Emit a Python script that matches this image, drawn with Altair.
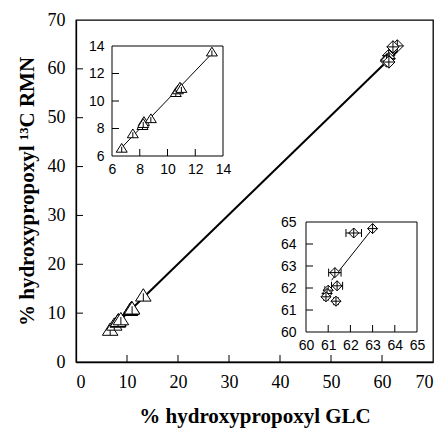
import altair as alt
import pandas as pd

# --- data -------------------------------------------------------------
# low-substitution samples (triangles)
tri_glc = [6.7, 7.5, 8.2, 8.3, 8.25, 8.8, 10.6, 10.75, 10.9, 11.0, 13.2]
tri_rmn = [6.55, 7.6, 8.2, 8.5, 8.35, 8.7, 10.6, 10.8, 11.0, 10.9, 13.55]

# high-substitution samples (diamonds, with GLC error bars)
dia_glc = [63.0, 62.15, 61.3, 61.4, 61.0, 60.95, 60.9, 61.35]
dia_rmn = [64.7, 64.5, 62.7, 62.1, 61.9, 61.75, 61.6, 61.4]
dia_err = [0.05, 0.35, 0.28, 0.25, 0.15, 0.12, 0.1, 0.1]

# fitted lines (end points)
main_fit_x = [6.4, 63.0]
main_fit_y = [6.3, 63.6]
low_fit_x = [6.4, 13.2]
low_fit_y = [6.3, 13.45]
high_fit_x = [61.15, 63.0]
high_fit_y = [62.35, 64.7]

main_ticks = [0, 10, 20, 30, 40, 50, 60, 70]
low_ticks = [6, 8, 10, 12, 14]
high_ticks = [60, 61, 62, 63, 64, 65]

# --- geometry ---------------------------------------------------------
W, H = 357, 342
SERIF = "Liberation Serif"
SANS = "Liberation Sans"

TRI = "M0,-1L1.1,0.75L-1.1,0.75Z M0,-0.35L0,0.75"
DIA = "M0,-1L1,0L0,1L-1,0Z M-1,0L1,0 M0,-1L0,1"

main_x = alt.Scale(domain=[0, 70], range=[0, W], nice=False, zero=False)
main_y = alt.Scale(domain=[0, 70], range=[H, 0], nice=False, zero=False)
low_x = alt.Scale(domain=[6, 14], range=[36, 147], nice=False, zero=False)
low_y = alt.Scale(domain=[6, 14], range=[136, 26], nice=False, zero=False)
high_x = alt.Scale(domain=[60, 65], range=[230, 341], nice=False, zero=False)
high_y = alt.Scale(domain=[60, 65], range=[312, 202], nice=False, zero=False)

tri_df = pd.DataFrame({"glc": tri_glc, "rmn": tri_rmn})
dia_df = pd.DataFrame({"glc": dia_glc, "rmn": dia_rmn, "err": dia_err})
dia_df["lo"] = dia_df["glc"] - dia_df["err"]
dia_df["hi"] = dia_df["glc"] + dia_df["err"]


def xq(scale, axis=None, field="glc"):
    return alt.X(f"{field}:Q", scale=scale, axis=axis)


def yq(scale, axis=None, field="rmn"):
    return alt.Y(f"{field}:Q", scale=scale, axis=axis)


def line_layer(xs, ys, sx, sy, width, xaxis=None, yaxis=None):
    df = pd.DataFrame({"glc": xs, "rmn": ys})
    return alt.Chart(df).mark_line(color="black", strokeWidth=width).encode(
        x=xq(sx, xaxis), y=yq(sy, yaxis)
    )


def points(df, shape, sx, sy, size):
    return alt.Chart(df).mark_point(
        shape=shape, filled=True, fill="white", stroke="black",
        strokeWidth=1, size=size, opacity=1
    ).encode(x=xq(sx), y=yq(sy))


def inward_ticks(values, sx, sy, x0, y0, len_x, len_y):
    inner = values[1:-1]
    xt = pd.DataFrame({"v": inner, "a": [y0] * len(inner), "b": [y0 + len_y] * len(inner)})
    yt = pd.DataFrame({"v": inner, "a": [x0] * len(inner), "b": [x0 + len_x] * len(inner)})
    r1 = alt.Chart(xt).mark_rule(color="black", strokeWidth=1).encode(
        x=alt.X("v:Q", scale=sx, axis=None),
        y=alt.Y("a:Q", scale=sy, axis=None), y2="b:Q")
    r2 = alt.Chart(yt).mark_rule(color="black", strokeWidth=1).encode(
        y=alt.Y("v:Q", scale=sy, axis=None),
        x=alt.X("a:Q", scale=sx, axis=None), x2="b:Q")
    return [r1, r2]


def frame(sx, sy, lo, hi):
    df = pd.DataFrame({"a": [lo], "b": [hi]})
    return alt.Chart(df).mark_rect(fill="white", stroke="black", strokeWidth=1).encode(
        x=alt.X("a:Q", scale=sx, axis=None), x2="b:Q",
        y=alt.Y("a:Q", scale=sy, axis=None), y2="b:Q")


def inset_axis(orient, offset, values, pad):
    return alt.Axis(
        orient=orient, offset=offset, values=values, ticks=False, domain=False,
        grid=False, title=None, labelFont=SANS, labelFontSize=14,
        labelColor="black", labelPadding=pad, labelOverlap=False, labelFlush=False,
    )


# --- main panel -------------------------------------------------------
main_xaxis = alt.Axis(
    orient="bottom", values=main_ticks, ticks=False, grid=False,
    domainColor="black", domainWidth=1.3,
    labelFont=SERIF, labelFontSize=18, labelColor="black", labelPadding=11,
    title="% hydroxypropoxyl GLC", titleFont=SERIF, titleFontSize=21,
    titleFontWeight="bold", titleColor="black", titlePadding=14,
)
main_yaxis = alt.Axis(
    orient="left", values=main_ticks, ticks=False, grid=False,
    domainColor="black", domainWidth=1.3,
    labelFont=SERIF, labelFontSize=18, labelColor="black", labelPadding=11,
    title="% hydroxypropoxyl \u00b9\u00b3C RMN", titleFont=SERIF, titleFontSize=21,
    titleFontWeight="bold", titleColor="black", titlePadding=10,
)

layers = [line_layer(main_fit_x, main_fit_y, main_x, main_y, 2, main_xaxis, main_yaxis)]
layers += inward_ticks(main_ticks, main_x, main_y, 0, 0, 7 * 70 / W, 7 * 70 / H)
layers.append(points(tri_df, TRI, main_x, main_y, 200))
layers.append(points(dia_df, DIA, main_x, main_y, 150))

# --- low-range inset ----------------------------------------------------
layers.append(frame(low_x, low_y, 6, 14))
layers += inward_ticks(low_ticks, low_x, low_y, 6, 6, 7 * 8 / 111, 7 * 8 / 110)
layers.append(line_layer(low_fit_x, low_fit_y, low_x, low_y, 1,
                         inset_axis("bottom", 136 - H, low_ticks, 6),
                         inset_axis("left", -36, low_ticks, 8)))
layers.append(points(tri_df, TRI, low_x, low_y, 100))

# --- high-range inset ---------------------------------------------------
layers.append(frame(high_x, high_y, 60, 65))
layers += inward_ticks(high_ticks, high_x, high_y, 60, 60, 7 * 5 / 111, 7 * 5 / 110)
layers.append(line_layer(high_fit_x, high_fit_y, high_x, high_y, 1,
                         inset_axis("bottom", 312 - H, high_ticks, 6),
                         inset_axis("left", -230, high_ticks, 10)))
cap = 4 * 5 / 110
err_bar = alt.Chart(dia_df).mark_rule(color="black", strokeWidth=1).encode(
    x=alt.X("lo:Q", scale=high_x, axis=None), x2="hi:Q",
    y=alt.Y("rmn:Q", scale=high_y, axis=None))
cap_df = pd.DataFrame({
    "x": list(dia_df["lo"]) + list(dia_df["hi"]),
    "y0": [r - cap for r in dia_rmn] * 2,
    "y1": [r + cap for r in dia_rmn] * 2,
})
err_cap = alt.Chart(cap_df).mark_rule(color="black", strokeWidth=1).encode(
    x=alt.X("x:Q", scale=high_x, axis=None),
    y=alt.Y("y0:Q", scale=high_y, axis=None), y2="y1:Q")
layers += [err_bar, err_cap]
layers.append(points(dia_df, DIA, high_x, high_y, 100))

chart = alt.layer(*layers).resolve_scale(x="independent", y="independent").properties(
    width=W, height=H,
    autosize=alt.AutoSizeParams(type="none"),
    padding={"left": 76, "top": 20, "right": 11, "bottom": 70},
    background="white",
).configure_view(stroke="black", strokeWidth=1.3)

chart.save("out.html", embed_options={"renderer": "svg", "actions": False})
